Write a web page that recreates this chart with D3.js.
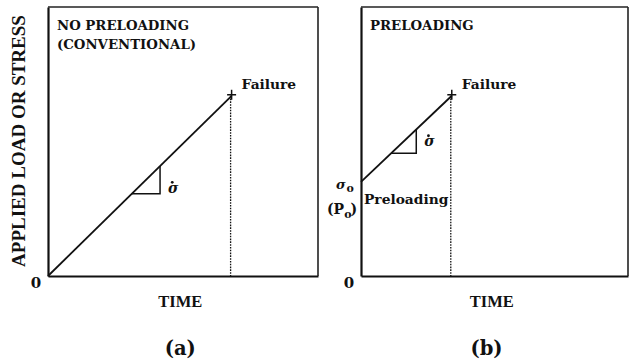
<!DOCTYPE html>
<html>
<head>
<meta charset="utf-8">
<script src="https://cdn.jsdelivr.net/npm/d3@7"></script>
<style>
  html, body { margin: 0; padding: 0; background: #fff; }
  svg { display: block; }
  text { font-family: "DejaVu Serif", "Liberation Serif", serif; font-weight: bold; fill: #111; }
</style>
</head>
<body>
<svg id="chart" width="629" height="362"></svg>
<script>
// Normalised time / stress values for the two loading histories
const panelIds = ["a", "b"];
const titleA = ["NO PRELOADING", "(CONVENTIONAL)"];
const titleB = ["PRELOADING"];
const loadA = [{ t: 0, s: 0 }, { t: 0.68, s: 0.67 }];      // ramp from zero to failure
const loadB = [{ t: 0, s: 0.35 }, { t: 0.34, s: 0.67 }];   // ramp from preload to failure
const rateLegA = [0.31, 0.415];   // time span of the slope triangle
const rateLegB = [0.113, 0.207];
const preloadLevel = 0.35;
const axisLabelY = "APPLIED LOAD OR STRESS";
const axisLabelX = "TIME";
const zeroLabel = "0";
const failureLabel = "Failure";
const preloadLabel = "Preloading";
const captions = ["(a)", "(b)"];

const panels = [
  { id: "a", xr: [48, 318], title: titleA, load: loadA, leg: rateLegA, capT: 0.49, preload: false },
  { id: "b", xr: [361, 628], title: titleB, load: loadB, leg: rateLegB, capT: 0.47, preload: true }
];

const svg = d3.select("#chart");
const yRange = [276, 7];
const narrowSerif = '"Liberation Serif", "Times New Roman", serif';

panels.forEach(p => {
  const x = d3.scaleLinear().domain([0, 1]).range(p.xr);
  const y = d3.scaleLinear().domain([0, 1]).range(yRange);
  const g = svg.append("g").attr("class", "panel-" + p.id);

  // frame: bottom and left axes heavier than top and right
  g.append("g").attr("transform", `translate(0,${y(0)})`)
    .call(d3.axisBottom(x).tickValues([]).tickSizeOuter(0))
    .call(s => s.select(".domain").attr("stroke", "#111").attr("stroke-width", 2.2));
  g.append("g").attr("transform", `translate(${x(0)},0)`)
    .call(d3.axisLeft(y).tickValues([]).tickSizeOuter(0))
    .call(s => s.select(".domain").attr("stroke", "#111").attr("stroke-width", 2.2));
  g.append("line").attr("x1", x(0)).attr("x2", x(1)).attr("y1", y(1)).attr("y2", y(1))
    .attr("stroke", "#222").attr("stroke-width", 1.6);
  g.append("line").attr("x1", x(1)).attr("x2", x(1)).attr("y1", y(1)).attr("y2", y(0))
    .attr("stroke", "#222").attr("stroke-width", 1.6);

  // zero at the origin
  g.append("text").attr("x", x(0) - 12).attr("y", y(0) + 11.5)
    .attr("text-anchor", "middle").attr("font-size", 15).text(zeroLabel);

  // panel title
  p.title.forEach((t, i) => {
    g.append("text").attr("x", x(0) + 9).attr("y", 30 + i * 19)
      .attr("font-size", 13.3).text(t);
  });

  // load ramp
  const line = d3.line().x(d => x(d.t)).y(d => y(d.s));
  g.append("path").datum(p.load).attr("d", line)
    .attr("fill", "none").attr("stroke", "#111").attr("stroke-width", 1.8);

  const fail = p.load[p.load.length - 1];
  const fx = x(fail.t), fy = y(fail.s);

  // dotted drop line at failure
  g.append("line").attr("x1", fx - 1).attr("x2", fx - 1).attr("y1", fy).attr("y2", y(0))
    .attr("stroke", "#111").attr("stroke-width", 1.3).attr("stroke-dasharray", "1.6,1.2");

  // failure cross
  g.append("line").attr("x1", fx - 4.5).attr("x2", fx + 4.5).attr("y1", fy - 1).attr("y2", fy - 1)
    .attr("stroke", "#111").attr("stroke-width", 1.5);
  g.append("line").attr("x1", fx).attr("x2", fx).attr("y1", fy - 6).attr("y2", fy + 4)
    .attr("stroke", "#111").attr("stroke-width", 1.5);
  g.append("text").attr("x", fx + 10).attr("y", fy - 6.5)
    .attr("font-size", 13.8).text(failureLabel);

  // slope triangle showing the stress rate
  const a = p.load[0], b = fail;
  const sAt = t => a.s + (b.s - a.s) * (t - a.t) / (b.t - a.t);
  const [t0, t1] = p.leg;
  g.append("path")
    .attr("d", `M${x(t0)},${y(sAt(t0))}H${x(t1)}V${y(sAt(t1))}`)
    .attr("fill", "none").attr("stroke", "#111").attr("stroke-width", 1.5);
  const sx = x(t1) + 8, sy = y(sAt(t0)) - (p.preload ? 7 : 1);
  g.append("text").attr("x", sx).attr("y", sy)
    .attr("font-size", 14).attr("font-style", "italic").text("σ");
  g.append("circle").attr("cx", sx + 4.2).attr("cy", sy - 10.5).attr("r", 1.4).attr("fill", "#111");

  // preload level labels
  if (p.preload) {
    const py = y(preloadLevel);
    g.append("text").attr("x", x(0) + 3).attr("y", py + 22)
      .attr("font-size", 13.8).text(preloadLabel);
    const s0 = g.append("text").attr("x", x(0) - 25).attr("y", py + 7).attr("font-size", 13);
    s0.append("tspan").attr("font-style", "italic").text("σ");
    s0.append("tspan").attr("dx", 1).attr("dy", 3).attr("font-size", 11).text("o");
    const p0 = g.append("text").attr("x", x(0) - 34).attr("y", py + 32).attr("font-size", 14);
    p0.append("tspan").text("(P");
    p0.append("tspan").attr("dy", 4).attr("font-size", 11).text("o");
    p0.append("tspan").attr("dy", -4).attr("dx", -1).text(")");
  }

  // axis title and caption
  g.append("text").attr("x", x(0.49)).attr("y", 307)
    .attr("text-anchor", "middle").style("font-family", narrowSerif)
    .attr("font-size", 16.5).text(axisLabelX);
  g.append("text").attr("x", x(p.capT)).attr("y", 355)
    .attr("text-anchor", "middle").attr("font-size", 19.5).text(captions[panelIds.indexOf(p.id)]);
});

// shared vertical axis title
svg.append("text")
  .attr("transform", "translate(25,141) rotate(-90)")
  .attr("text-anchor", "middle").style("font-family", narrowSerif)
  .attr("font-size", 19).text(axisLabelY);
</script>
</body>
</html>
